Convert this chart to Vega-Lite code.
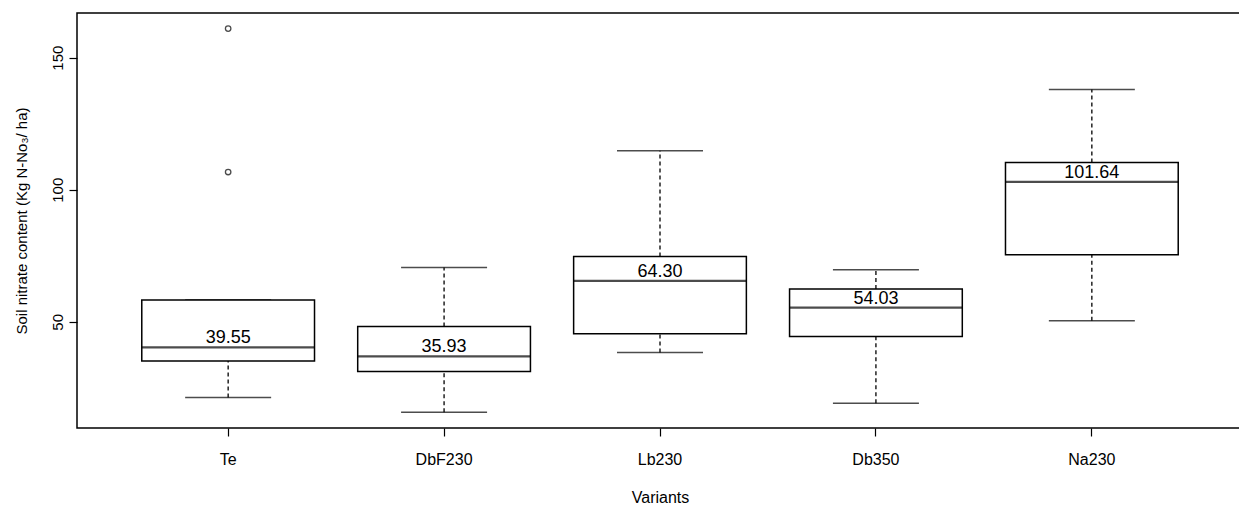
{
  "$schema": "https://vega.github.io/schema/vega-lite/v6.json",
  "autosize": "none",
  "width": 1166,
  "height": 415,
  "padding": {"left": 77, "top": 13, "right": 0, "bottom": 79},
  "background": "white",
  "datasets": {
    "boxes": [
      {"variant": "Te", "lower": 21.3, "q1": 35.2, "median": 40.3, "q3": 58.3, "upper": 58.3, "label": "39.55"},
      {"variant": "DbF230", "lower": 15.8, "q1": 31.2, "median": 36.9, "q3": 48.2, "upper": 70.6, "label": "35.93"},
      {"variant": "Lb230", "lower": 38.4, "q1": 45.5, "median": 65.5, "q3": 74.7, "upper": 114.8, "label": "64.30"},
      {"variant": "Db350", "lower": 19.2, "q1": 44.4, "median": 55.4, "q3": 62.4, "upper": 69.7, "label": "54.03"},
      {"variant": "Na230", "lower": 50.4, "q1": 75.4, "median": 103.0, "q3": 110.3, "upper": 137.9, "label": "101.64"}
    ],
    "outliers": [
      {"variant": "Te", "value": 106.7},
      {"variant": "Te", "value": 161.0}
    ]
  },
  "data": {"name": "boxes"},
  "config": {
    "font": "Liberation Sans",
    "view": {"stroke": "black", "strokeWidth": 1.5},
    "axis": {
      "grid": false,
      "domain": false,
      "tickColor": "black",
      "tickWidth": 1.2,
      "tickSize": 8,
      "labelColor": "black",
      "titleColor": "black",
      "labelFont": "Liberation Sans",
      "titleFont": "Liberation Sans",
      "labelFontSize": 15,
      "titleFontSize": 15,
      "titleFontWeight": "normal"
    }
  },
  "encoding": {
    "x": {
      "field": "variant",
      "type": "nominal",
      "sort": ["Te", "DbF230", "Lb230", "Db350", "Na230"],
      "scale": {"paddingInner": 0, "paddingOuter": 0.2},
      "axis": {"title": "Variants", "labelAngle": 0, "labelPadding": 15, "labelFontSize": 16, "titleFontSize": 16, "titlePadding": 22}
    }
  },
  "layer": [
    {
      "mark": {"type": "rule", "color": "black", "strokeWidth": 1.3, "strokeDash": [4, 3]},
      "encoding": {
        "y": {
          "field": "lower",
          "type": "quantitative",
          "scale": {"domain": [9.8, 166.9], "nice": false, "zero": false},
          "axis": {
            "title": "Soil nitrate content (Kg N-No₃/ ha)",
            "values": [50, 100, 150],
            "labelAngle": -90,
            "labelAlign": "center",
            "labelBaseline": "alphabetic",
            "labelPadding": 7,
            "titlePadding": 21
          }
        },
        "y2": {"field": "q1"}
      }
    },
    {
      "mark": {"type": "rule", "color": "black", "strokeWidth": 1.3, "strokeDash": [4, 3]},
      "encoding": {
        "y": {"field": "q3", "type": "quantitative"},
        "y2": {"field": "upper"}
      }
    },
    {
      "mark": {"type": "tick", "color": "black", "size": 86, "thickness": 1.5},
      "encoding": {"y": {"field": "lower", "type": "quantitative"}}
    },
    {
      "mark": {"type": "tick", "color": "black", "size": 86, "thickness": 1.5},
      "encoding": {"y": {"field": "upper", "type": "quantitative"}}
    },
    {
      "mark": {"type": "bar", "fill": "white", "stroke": "black", "strokeWidth": 1.5, "width": {"band": 0.8}},
      "encoding": {
        "y": {"field": "q1", "type": "quantitative"},
        "y2": {"field": "q3"}
      }
    },
    {
      "mark": {"type": "tick", "color": "black", "size": 173, "thickness": 2.2},
      "encoding": {"y": {"field": "median", "type": "quantitative"}}
    },
    {
      "mark": {"type": "text", "color": "black", "fontSize": 18, "baseline": "alphabetic", "align": "center", "dy": -4},
      "encoding": {
        "y": {"field": "median", "type": "quantitative"},
        "text": {"field": "label"}
      }
    },
    {
      "data": {"name": "outliers"},
      "mark": {"type": "point", "shape": "circle", "filled": false, "color": "black", "size": 30, "strokeWidth": 1.3},
      "encoding": {
        "y": {"field": "value", "type": "quantitative"}
      }
    }
  ]
}
